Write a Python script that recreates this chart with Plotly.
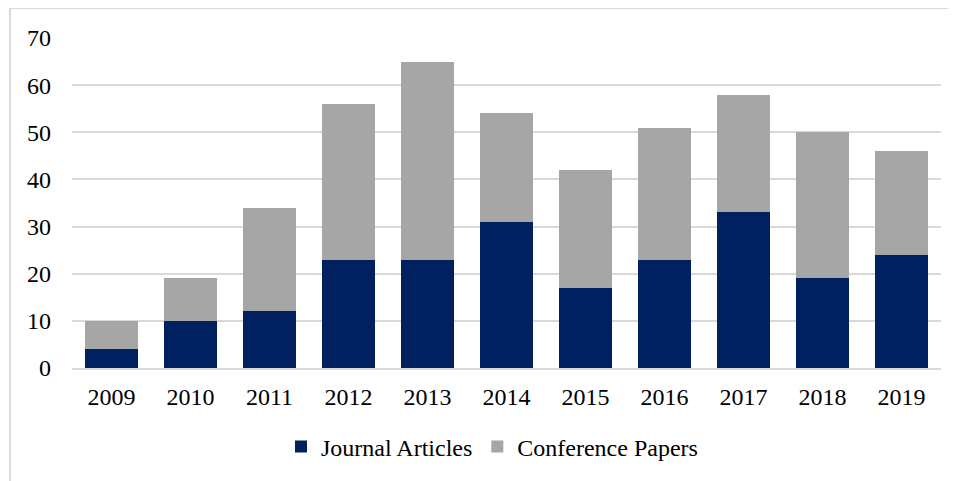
import plotly.graph_objects as go

years = ["2009", "2010", "2011", "2012", "2013", "2014", "2015", "2016", "2017", "2018", "2019"]
journal_articles = [4, 10, 12, 23, 23, 31, 17, 23, 33, 19, 24]
conference_papers = [6, 9, 22, 33, 42, 23, 25, 28, 25, 31, 22]
y_ticks = [0, 10, 20, 30, 40, 50, 60, 70]

# page body has an 8px offset; target screen coords of plot area
OFF = 8
W, H = 956, 481
px_left, px_right, px_top, px_bottom = 72, 941, 38, 368
L = px_left - OFF
T = px_top - OFF
R = W - (px_right - OFF)
B = H - (px_bottom - OFF)
pw, ph = px_right - px_left, px_bottom - px_top

fig = go.Figure()
fig.add_trace(go.Bar(x=years, y=journal_articles, name="Journal Articles",
                     marker=dict(color="#002060", line=dict(width=0))))
fig.add_trace(go.Bar(x=years, y=conference_papers, name="Conference Papers",
                     marker=dict(color="#A6A6A6", line=dict(width=0))))

fig.update_layout(
    barmode="stack",
    bargap=0.34,
    width=W, height=H,
    margin=dict(l=L, r=R, t=T, b=B),
    paper_bgcolor="white", plot_bgcolor="white",
    font=dict(family="Liberation Serif, Times New Roman, serif", size=24, color="#000000"),
    showlegend=True,
    legend=dict(orientation="h", x=(492 - px_left) / pw, xanchor="center",
                y=(px_bottom - 447) / ph, yanchor="middle",
                font=dict(size=24), itemwidth=30, traceorder="normal"),
    xaxis=dict(showgrid=False, showline=True, linecolor="#D9D9D9", linewidth=2,
               ticks="", ticklabelstandoff=6),
    yaxis=dict(range=[0, 70], tickvals=y_ticks, showgrid=True, gridcolor="#D9D9D9",
               gridwidth=1.5, zeroline=False, showline=False, ticks="",
               ticklabelstandoff=20),
)

fig.add_shape(type="rect", xref="paper", yref="paper",
              x0=(10 - px_left) / pw, x1=1.2, y0=-0.6, y1=(px_bottom - 8) / ph,
              line=dict(color="#D9D9D9", width=2), fillcolor="rgba(0,0,0,0)", layer="below")

fig.write_html("out.html")
